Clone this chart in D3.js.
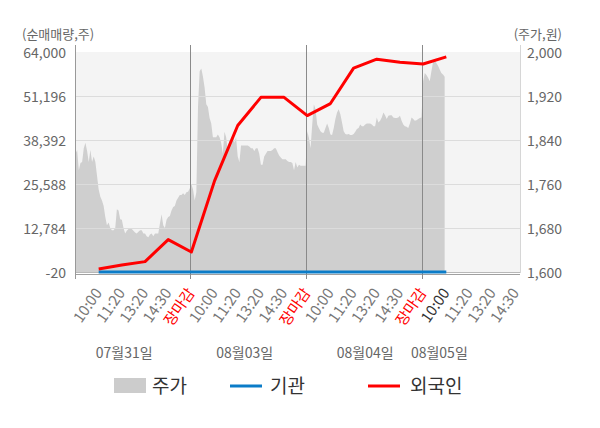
<!DOCTYPE html>
<html><head><meta charset="utf-8">
<script src="https://cdn.jsdelivr.net/npm/d3@7"></script>
<style>
body{margin:0;background:#fff}
text{font-family:"Noto Sans CJK KR","Noto Sans",sans-serif}
</style>
</head><body>
<svg id="c" width="600" height="428"></svg>
<script>
// ---------- data ----------
const dates = ["07월31일", "08월03일", "08월04일", "08월05일"];
const timeLabels = ["10:00", "11:20", "13:20", "14:30", "장마감"];
const leftTicks = [-20, 12784, 25588, 38392, 51196, 64000];
const rightTicks = [1600, 1680, 1760, 1840, 1920, 2000];
const legendNames = ["주가", "기관", "외국인"];

// price (주가), sampled intraday per day
const priceDay1 = [1815,1822,1785,1798,1800,1825,1835,1820,1800,1822,
  1800,1810,1800,1775,1750,1737,1730,1720,1700,1685,
  1690,1680,1676,1676,1680,1714,1712,1696,1695,1680,
  1670,1675,1678,1678,1678,1675,1672,1670,1673,1676,
  1676,1670,1670,1665,1663,1668,1670,1665,1670,1670,
  1670,1688,1705,1685,1680,1695,1700,1702,1712,1718,
  1720,1730,1735,1740,1740,1743,1740,1745,1746,1752];
const priceDay2 = [1760,1750,1730,1745,1900,1965,1970,1955,1935,1905,
  1900,1880,1870,1845,1845,1845,1850,1845,1835,1815,
  1855,1845,1820,1840,1835,1850,1835,1845,1810,1800,
  1830,1830,1830,1830,1830,1828,1825,1825,1820,1825,
  1825,1815,1795,1795,1810,1815,1820,1820,1820,1822,
  1825,1825,1818,1812,1808,1805,1805,1805,1802,1800,
  1800,1798,1785,1800,1790,1795,1793,1793,1793,1793];
const priceDay3 = [1856,1844,1825,1868,1905,1896,1868,1862,1856,1853,
  1853,1862,1870,1862,1850,1849,1862,1878,1890,1896,
  1887,1872,1856,1851,1850,1851,1849,1849,1851,1855,
  1860,1862,1868,1865,1865,1868,1870,1870,1870,1868,
  1865,1865,1881,1872,1875,1881,1890,1885,1878,1884,
  1885,1885,1881,1880,1880,1881,1884,1875,1868,1865,
  1864,1862,1870,1881,1878,1875,1876,1878,1880,1881];
const priceDay4 = [1947,1962,1958,1953,1947,1965,1982,1985,1980,1975,1968,1962,1959,1955];

// net buying (순매매량) at each time label
const foreignNet = [850, 2000, 3000, 9400, 5800, 26500, 42600, 50800, 50800, 45500, 49000, 59300, 61900, 61000, 60500, 62600];
const institutionNet = [0, 0, 0, 0, 0, 0, 0, 0, 0, 0, 0, 0, 0, 0, 0, 0];

// ---------- layout ----------
const W = 600, H = 428;
const L = 76, R = 520, T = 52, B = 272;
const slotsPerDay = timeLabels.length;
const samplesPerSlot = 14;
const FONT = '"Noto Sans CJK KR","Noto Sans",sans-serif';

const svg = d3.select("#c");
const x = d3.scaleLinear().domain([0, 19.18]).range([75.5, R]);
const yL = d3.scaleLinear().domain([leftTicks[0], leftTicks[leftTicks.length - 1]]).range([B, T]);
const yR = d3.scaleLinear().domain([rightTicks[0], rightTicks[rightTicks.length - 1]]).range([B, T]);

const fmt = d3.formatLocale({decimal: ".", thousands: ",", grouping: [3], currency: ["", ""], minus: "-"}).format(",");

svg.append("rect").attr("width", W).attr("height", H).attr("fill", "#fff");
svg.append("defs").append("clipPath").attr("id", "clip")
  .append("rect").attr("x", L).attr("y", T).attr("width", R - L).attr("height", B - T);

// plot background
svg.append("rect").attr("x", L).attr("y", T).attr("width", R - L).attr("height", B - T).attr("fill", "#f4f4f4");

// price area
const priceDays = [priceDay1, priceDay2, priceDay3, priceDay4];
const pricePts = [];
priceDays.forEach((arr, d) => arr.forEach((p, k) => pricePts.push({i: d * slotsPerDay + k / samplesPerSlot, p})));
svg.append("path").datum(pricePts)
  .attr("clip-path", "url(#clip)")
  .attr("fill", "#cfcfcf")
  .attr("d", d3.area().x(d => x(d.i)).y0(B).y1(d => yR(d.p)));

// gridlines
leftTicks.slice(0, -1).forEach((v, k) => {
  svg.append("line").attr("x1", L).attr("x2", R)
    .attr("y1", yL(v) + 0.5).attr("y2", yL(v) + 0.5)
    .attr("stroke", k === 0 ? "#b8b8b8" : "#dcdcdc").attr("stroke-width", 1);
});
// x axis baseline
svg.append("line").attr("x1", L).attr("x2", R).attr("y1", B + 2.5).attr("y2", B + 2.5)
  .attr("stroke", "#a0a0a0").attr("stroke-width", 1);

// left / right axis lines
svg.append("line").attr("x1", L - 0.5).attr("x2", L - 0.5).attr("y1", 45).attr("y2", 279)
  .attr("stroke", "#999").attr("stroke-width", 1);
svg.append("line").attr("x1", R + 0.5).attr("x2", R + 0.5).attr("y1", 45).attr("y2", B + 1)
  .attr("stroke", "#d6d6d6").attr("stroke-width", 1);

// day separators
[1, 2, 3].forEach(d => {
  const xs = Math.round(x(d * slotsPerDay)) - 0.5;
  svg.append("line").attr("x1", xs).attr("x2", xs).attr("y1", 45).attr("y2", 279)
    .attr("stroke", "#8a8a8a").attr("stroke-width", 1);
});

// lines
const tickIdx = foreignNet.map((_, k) => k + 1);
const lineGen = d3.line().x((d, k) => x(tickIdx[k])).y(d => yL(d));
svg.append("path").datum(institutionNet).attr("fill", "none")
  .attr("stroke", "#0b7cc8").attr("stroke-width", 3).attr("d", lineGen);
svg.append("path").datum(foreignNet).attr("fill", "none")
  .attr("stroke", "#ff0000").attr("stroke-width", 3).attr("stroke-linejoin", "round").attr("d", lineGen);

// left axis labels
const gl = svg.append("g").attr("transform", `translate(${L},0)`)
  .call(d3.axisLeft(yL).tickValues(leftTicks).tickSize(0).tickPadding(10).tickFormat(fmt));
gl.select(".domain").remove();
gl.selectAll("text").attr("font-size", 14).attr("fill", "#666").attr("dy", "0.42em").style("font-family", FONT);

// right axis labels
const gr = svg.append("g").attr("transform", `translate(${R},0)`)
  .call(d3.axisRight(yR).tickValues(rightTicks).tickSize(0).tickPadding(7).tickFormat(fmt));
gr.select(".domain").remove();
gr.selectAll("text").attr("font-size", 14).attr("fill", "#666").attr("dy", "0.42em").style("font-family", FONT);

// axis titles
svg.append("text").attr("x", 22).attr("y", 39).attr("font-size", 13).attr("fill", "#666").text("(순매매량,주)");
svg.append("text").attr("x", 562).attr("y", 39).attr("text-anchor", "end").attr("font-size", 13).attr("fill", "#666").text("(주가,원)");

// x tick labels
const maxIdx = x.domain()[1];
for (let d = 0; d < dates.length; d++) {
  timeLabels.forEach((t, j) => {
    const i = d * slotsPerDay + j + 1;
    if (i > maxIdx) return;
    const isClose = j === timeLabels.length - 1;
    const isLast = i === foreignNet.length;
    svg.append("text")
      .attr("transform", `translate(${x(i) + 4},${B + 21}) rotate(-55)`)
      .attr("text-anchor", "end")
      .attr("font-size", 15)
      .attr("fill", isClose ? "#ff0000" : (isLast ? "#333" : "#777"))
      .text(t);
  });
}

// date labels
const datePos = [2.1, 7.3, 12.5, 15.7];
dates.forEach((t, d) => {
  svg.append("text").attr("x", x(datePos[d])).attr("y", 358)
    .attr("text-anchor", "middle").attr("font-size", 14).attr("fill", "#666").text(t);
});

// legend
const lg = svg.append("g");
lg.append("rect").attr("x", 114).attr("y", 378).attr("width", 32).attr("height", 15).attr("fill", "#cccccc");
lg.append("text").attr("x", 152).attr("y", 393).attr("font-size", 19).attr("fill", "#333").text(legendNames[0]);
lg.append("line").attr("x1", 230).attr("x2", 262).attr("y1", 386).attr("y2", 386).attr("stroke", "#0b7cc8").attr("stroke-width", 3);
lg.append("text").attr("x", 270).attr("y", 393).attr("font-size", 19).attr("fill", "#333").text(legendNames[1]);
lg.append("line").attr("x1", 368).attr("x2", 400).attr("y1", 386).attr("y2", 386).attr("stroke", "#ff0000").attr("stroke-width", 3);
lg.append("text").attr("x", 410).attr("y", 393).attr("font-size", 19).attr("fill", "#333").text(legendNames[2]);
</script>
</body></html>
